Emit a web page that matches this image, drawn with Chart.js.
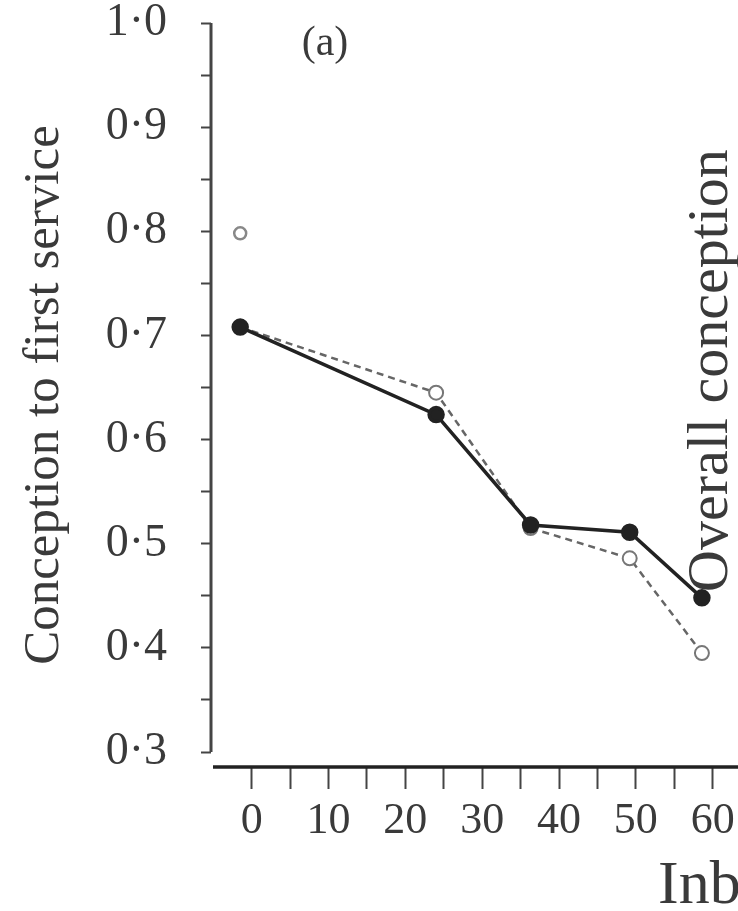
<!DOCTYPE html>
<html>
<head>
<meta charset="utf-8">
<script src="https://cdn.jsdelivr.net/npm/chart.js@4"></script>
<style>
  html, body { margin: 0; padding: 0; background: #fff; overflow: hidden; }
  #wrap { width: 800px; height: 911px; }
</style>
</head>
<body>
<div id="wrap"><canvas id="conception-chart"></canvas></div>
<script>
// inbreeding class positions (x) shared by both series
var inbreeding = [-1.5, 24, 36.3, 49.2, 58.6];
// conception to first service, solid line with filled dots
var filledSeries = [0.708, 0.624, 0.518, 0.511, 0.448];
// second series, dashed line with open dots
var openSeries = [0.708, 0.645, 0.515, 0.486, 0.395];
// lone open dot above the start of the lines
var loneX = [-1.5];
var loneY = [0.798];

// tick values and labels
var yMajorTicks = [0.3, 0.4, 0.5, 0.6, 0.7, 0.8, 0.9, 1.0];
var yTickLabels = ['0·3', '0·4', '0·5', '0·6', '0·7', '0·8', '0·9', '1·0'];
var yMinorTicks = [0.35, 0.45, 0.55, 0.65, 0.75, 0.85, 0.95];
var xMajorTicks = [0, 10, 20, 30, 40, 50, 60];
var xTickLabels = ['0', '10', '20', '30', '40', '50', '60'];
var xMinorTicks = [5, 15, 25, 35, 45, 55, 65];

var serif = "'Liberation Serif', 'Times New Roman', serif";
var inkColor = '#3a3a3a';

function toPoints(xs, ys) {
  return xs.map(function (x, i) { return { x: x, y: ys[i] }; });
}

function labelFrom(list, labels, value) {
  for (var i = 0; i < list.length; i++) {
    if (Math.abs(list[i] - value) < 1e-6) return labels[i];
  }
  return '';
}

/*******************************
* Axis lines and the loose texts of the scanned figure
*******************************/
var paperPlugin = {
  id: 'paper',
  afterDraw: function (chart) {
    var ctx = chart.ctx;
    var area = chart.chartArea;
    var ys = chart.scales.y;
    ctx.save();
    // y axis line, only from 0.3 to 1.0
    ctx.strokeStyle = '#444';
    ctx.lineWidth = 3;
    ctx.beginPath();
    ctx.moveTo(area.left, ys.getPixelForValue(yMajorTicks[yMajorTicks.length - 1]));
    ctx.lineTo(area.left, ys.getPixelForValue(yMajorTicks[0]));
    ctx.stroke();
    // x axis line, a bit below the end of the y axis
    ctx.strokeStyle = '#222';
    ctx.lineWidth = 3.5;
    ctx.beginPath();
    ctx.moveTo(area.left + 2, area.bottom);
    ctx.lineTo(area.right, area.bottom);
    ctx.stroke();

    ctx.fillStyle = inkColor;
    // panel letter
    ctx.font = '42px ' + serif;
    ctx.textAlign = 'center';
    ctx.textBaseline = 'middle';
    ctx.fillText('(a)', 325, 44);
    // axis title of the neighbouring panel, cut by the page edge
    ctx.save();
    ctx.translate(727, 592);
    ctx.rotate(-Math.PI / 2);
    ctx.font = '58px ' + serif;
    ctx.textAlign = 'left';
    ctx.textBaseline = 'alphabetic';
    ctx.fillText('Overall conception', 0, 0);
    ctx.restore();
    // shared x title, also cut
    ctx.font = '62px ' + serif;
    ctx.textAlign = 'left';
    ctx.textBaseline = 'alphabetic';
    ctx.fillText('Inbreeding', 658, 903);
    ctx.restore();
  }
};

new Chart(document.getElementById('conception-chart'), {
  type: 'scatter',
  data: {
    datasets: [{
      label: 'filled',
      data: toPoints(inbreeding, filledSeries),
      showLine: true,
      borderColor: '#222',
      borderWidth: 3.5,
      pointRadius: 7,
      pointBackgroundColor: '#222',
      pointBorderColor: '#222'
    }, {
      label: 'open',
      data: toPoints(inbreeding, openSeries),
      showLine: true,
      borderColor: '#666',
      borderWidth: 2.5,
      borderDash: [7, 5],
      pointRadius: [0, 7, 7, 7, 7],
      pointBackgroundColor: '#fff',
      pointBorderColor: '#777',
      pointBorderWidth: 2
    }, {
      label: 'lone',
      data: toPoints(loneX, loneY),
      showLine: false,
      pointRadius: 6,
      pointBackgroundColor: '#fff',
      pointBorderColor: '#888',
      pointBorderWidth: 2.5
    }]
  },
  options: {
    responsive: true,
    maintainAspectRatio: false,
    animation: false,
    layout: { padding: { top: 23, right: 6, bottom: 0, left: 0 } },
    plugins: {
      legend: { display: false },
      tooltip: { enabled: false }
    },
    scales: {
      x: {
        type: 'linear',
        min: -5.3,
        max: 70,
        afterBuildTicks: function (axis) {
          axis.ticks = xMajorTicks.concat(xMinorTicks).sort(function (a, b) { return a - b; })
            .map(function (v) { return { value: v }; });
        },
        afterFit: function (scale) {
          scale.height = 144;
          scale.paddingLeft = 0;
          scale.paddingRight = 0;
        },
        border: { display: false },
        grid: { drawOnChartArea: false, tickLength: 22, tickWidth: 2, tickColor: '#444' },
        ticks: {
          autoSkip: false,
          maxRotation: 0,
          padding: 10,
          color: inkColor,
          font: { family: serif, size: 44, lineHeight: 1 },
          callback: function (v) { return labelFrom(xMajorTicks, xTickLabels, v); }
        }
      },
      y: {
        type: 'linear',
        min: 0.2856,
        max: 1.0,
        afterBuildTicks: function (axis) {
          axis.ticks = yMajorTicks.concat(yMinorTicks).sort(function (a, b) { return a - b; })
            .map(function (v) { return { value: v }; });
        },
        afterFit: function (scale) {
          scale.width = 211;
          scale.paddingTop = 0;
          scale.paddingBottom = 0;
        },
        border: { display: false },
        grid: { drawOnChartArea: false, tickLength: 10, tickWidth: 2, tickColor: '#444' },
        ticks: {
          autoSkip: false,
          padding: 34,
          color: inkColor,
          font: { family: serif, size: 46, lineHeight: 1 },
          callback: function (v) { return labelFrom(yMajorTicks, yTickLabels, v); }
        },
        title: {
          display: true,
          text: 'Conception to first service',
          color: inkColor,
          font: { family: serif, size: 51 },
          padding: { top: 14, bottom: 0 }
        }
      }
    }
  },
  plugins: [paperPlugin]
});
</script>
</body>
</html>
